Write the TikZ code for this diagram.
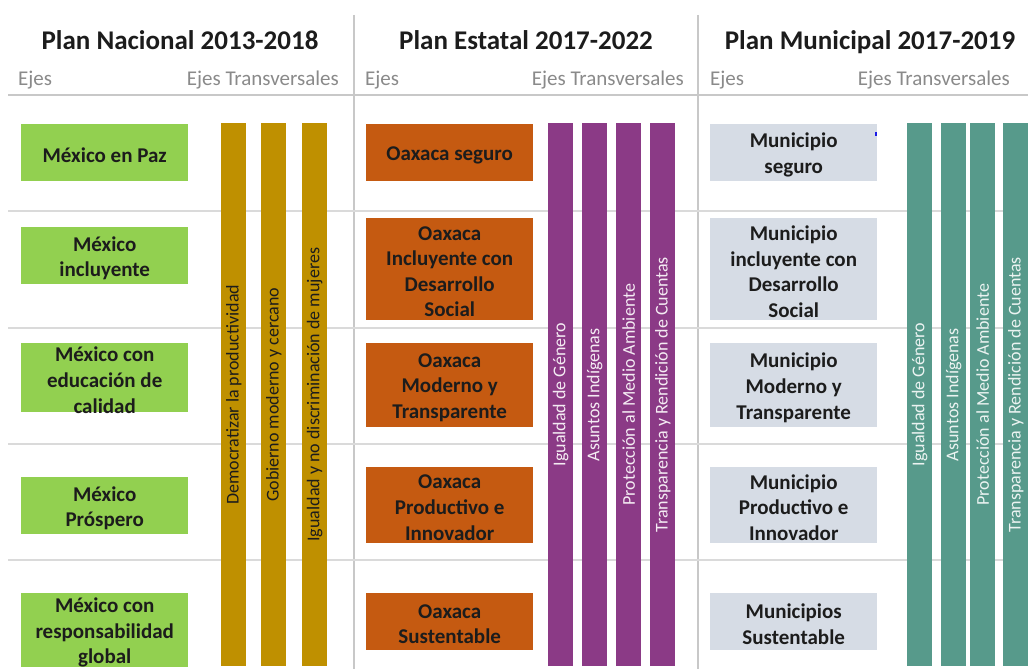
\documentclass[tikz,border=0pt]{standalone}
\usepackage{fontspec}
\setmainfont{Carlito}
\definecolor{cgreen}{HTML}{92D050}
\definecolor{corange}{HTML}{C55A11}
\definecolor{cgray}{HTML}{D6DCE5}
\definecolor{cgold}{HTML}{BF9000}
\definecolor{cpurple}{HTML}{8B3A86}
\definecolor{cteal}{HTML}{579A8B}
\definecolor{txt}{HTML}{1C1C1C}
\definecolor{hdr}{HTML}{8A8A8A}
\definecolor{sepc}{HTML}{C8C8C8}
\definecolor{rowc}{HTML}{DADADA}
\definecolor{dotc}{HTML}{1A1AE6}
\tikzset{
  sepline/.style={draw=sepc, line width=1.2pt},
  rowline/.style={draw=rowc, line width=2pt},
  ejebox/.style={inner sep=0, anchor=north west, minimum width=167pt},
  gbox/.style={ejebox, fill=cgreen},
  obox/.style={ejebox, fill=corange},
  mbox/.style={ejebox, fill=cgray},
  btext/.style={font=\fontsize{21}{25.6}\selectfont\bfseries, align=center, text=txt, inner sep=0, yshift=-2.5pt},
  title/.style={font=\fontsize{27}{32}\selectfont\bfseries, text=txt, inner sep=0, anchor=base},
  hlabel/.style={font=\fontsize{21}{25}\selectfont, text=hdr, inner sep=0},
  bar/.style={inner sep=0, anchor=north west, minimum width=25pt, minimum height=543pt},
  goldbar/.style={bar, fill=cgold},
  purplebar/.style={bar, fill=cpurple},
  tealbar/.style={bar, fill=cteal},
  bartext/.style={font=\fontsize{18}{21}\selectfont, rotate=90, inner sep=0},
}
\begin{document}
\begin{tikzpicture}[x=1pt,y=-1pt]
\useasboundingbox[fill=white] (0,0) rectangle (1028,669);

% separators and row lines
\coordinate (hl) at (8,95);   \coordinate (hr) at (1028,95);
\draw[sepline] (hl) -- (hr);
\coordinate (v1t) at (354,15); \coordinate (v1b) at (354,669);
\coordinate (v2t) at (698,15); \coordinate (v2b) at (698,669);
\draw[sepline] (v1t) -- (v1b);
\draw[sepline] (v2t) -- (v2b);
\foreach \yy [count=\i] in {211,328,444,560}{
  \coordinate (r\i l) at (8,\yy); \coordinate (r\i r) at (1028,\yy);
  \draw[rowline] (r\i l) -- (r\i r);
}

% titles
\node[title] (t1) at (180,49) {Plan Nacional 2013-2018};
\node[title] (t2) at (526,49) {Plan Estatal 2017-2022};
\node[title] (t3) at (870,49) {Plan Municipal 2017-2019};

% header labels
\node[hlabel, anchor=base west] (e1) at (18,85) {Ejes};
\node[hlabel, anchor=base east] (x1) at (339,85) {Ejes Transversales};
\node[hlabel, anchor=base west] (e2) at (365,85) {Ejes};
\node[hlabel, anchor=base east] (x2) at (684,85) {Ejes Transversales};
\node[hlabel, anchor=base west] (e3) at (710,85) {Ejes};
\node[hlabel, anchor=base east] (x3) at (1010,85) {Ejes Transversales};

% national boxes
\node[gbox, minimum height=57pt] (n1) at (21,124) {};
\node[btext] at (n1) {México en Paz};
\node[gbox, minimum height=57pt] (n2) at (21,227) {};
\node[btext] at (n2) {México\\incluyente};
\node[gbox, minimum height=69pt] (n3) at (21,343) {};
\node[btext] at (n3) {México con\\educación de\\calidad};
\node[gbox, minimum height=57pt] (n4) at (21,477) {};
\node[btext] at (n4) {México\\Próspero};
\node[gbox, minimum height=74pt] (n5) at (21,593) {};
\node[btext] at (n5) {México con\\responsabilidad\\global};

% state boxes
\node[obox, minimum height=57pt] (s1) at (366,124) {};
\node[btext] at (s1) {Oaxaca seguro};
\node[obox, minimum height=102pt] (s2) at (366,218) {};
\node[btext] at (s2) {Oaxaca\\Incluyente con\\Desarrollo\\Social};
\node[obox, minimum height=84pt] (s3) at (366,343) {};
\node[btext] at (s3) {Oaxaca\\Moderno y\\Transparente};
\node[obox, minimum height=76pt] (s4) at (366,467) {};
\node[btext] at (s4) {Oaxaca\\Productivo e\\Innovador};
\node[obox, minimum height=57pt] (s5) at (366,593) {};
\node[btext] at (s5) {Oaxaca\\Sustentable};

% municipal boxes
\node[mbox, minimum height=57pt] (m1) at (710,124) {};
\node[btext] at (m1) {Municipio\\seguro};
\node[mbox, minimum height=102pt] (m2) at (710,218) {};
\node[btext] at (m2) {Municipio\\incluyente con\\Desarrollo\\Social};
\node[mbox, minimum height=84pt] (m3) at (710,343) {};
\node[btext] at (m3) {Municipio\\Moderno y\\Transparente};
\node[mbox, minimum height=76pt] (m4) at (710,467) {};
\node[btext] at (m4) {Municipio\\Productivo e\\Innovador};
\node[mbox, minimum height=57pt] (m5) at (710,593) {};
\node[btext] at (m5) {Municipios\\Sustentable};
\fill[dotc] (875,132) rectangle (877,136);

% national transversal bars
\node[goldbar] (g1) at (221,123) {};
\node[bartext, text=txt] at (g1) {Democratizar la productividad};
\node[goldbar] (g2) at (261,123) {};
\node[bartext, text=txt] at (g2) {Gobierno moderno y cercano};
\node[goldbar] (g3) at (302,123) {};
\node[bartext, text=txt] at (g3) {Igualdad y no discriminación de mujeres};

% state transversal bars
\node[purplebar] (p1) at (548,123) {};
\node[bartext, text=white!90!cpurple] at (p1) {Igualdad de Género};
\node[purplebar] (p2) at (582,123) {};
\node[bartext, text=white!90!cpurple] at (p2) {Asuntos Indígenas};
\node[purplebar] (p3) at (616,123) {};
\node[bartext, text=white!90!cpurple] at (p3) {Protección al Medio Ambiente};
\node[purplebar] (p4) at (650,123) {};
\node[bartext, text=white!90!cpurple] at (p4) {Transparencia y Rendición de Cuentas};

% municipal transversal bars
\node[tealbar] (q1) at (907,123) {};
\node[bartext, text=white!88!cteal] at (q1) {Igualdad de Género};
\node[tealbar] (q2) at (941,123) {};
\node[bartext, text=white!88!cteal] at (q2) {Asuntos Indígenas};
\node[tealbar] (q3) at (970,123) {};
\node[bartext, text=white!88!cteal] at (q3) {Protección al Medio Ambiente};
\node[tealbar] (q4) at (1003,123) {};
\node[bartext, text=white!88!cteal] at (q4) {Transparencia y Rendición de Cuentas};
\end{tikzpicture}
\end{document}
